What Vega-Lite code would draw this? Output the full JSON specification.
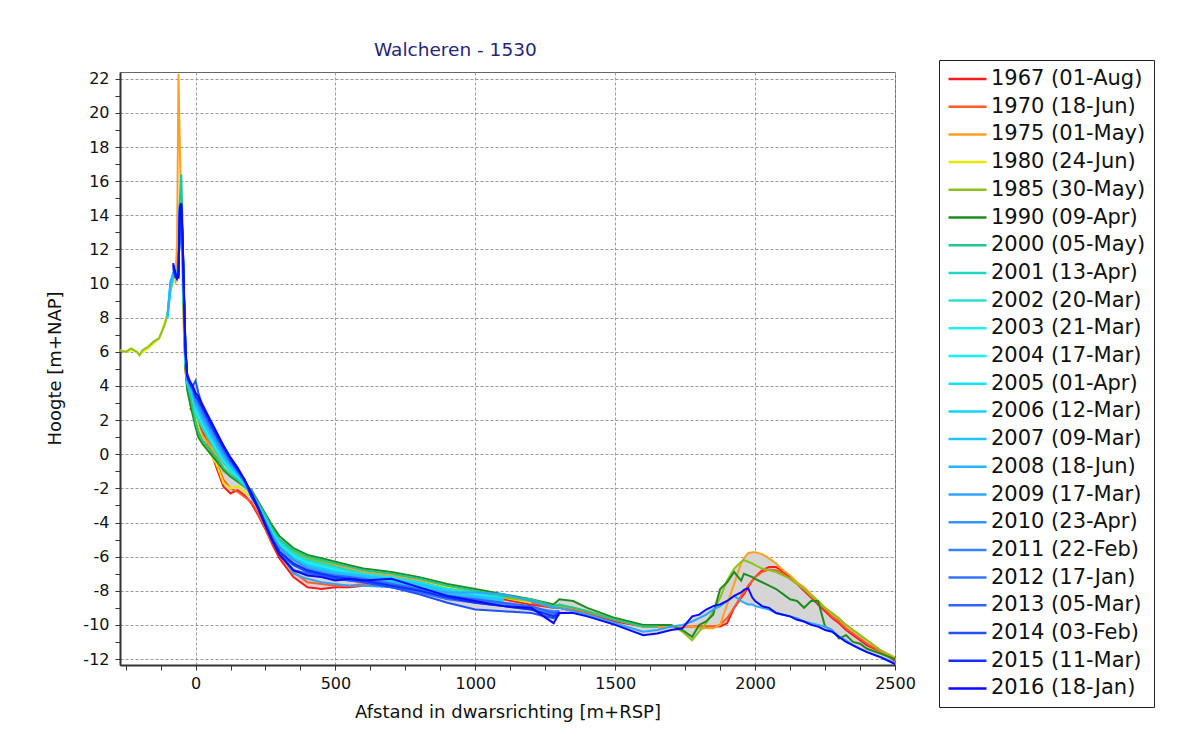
{
  "$schema": "https://vega.github.io/schema/vega-lite/v6.json",
  "width": 775,
  "height": 593,
  "autosize": {"type": "none"},
  "padding": {"left": 120, "top": 72, "right": 294, "bottom": 81},
  "background": "white",
  "config": {"font": "DejaVu Sans", "view": {"stroke": "#666", "strokeWidth": 1}},
  "title": {"text": "Walcheren - 1530", "color": "#25257a", "font": "DejaVu Sans", "fontSize": 18.5, "fontWeight": "normal", "anchor": "start", "frame": "group", "dx": 254, "offset": 0},
  "data": {"values": [
    {"x":0,"s67":2.4,"s70":2.6,"s75":2.1,"s80":2.2,"s85":1.9,"s90":1.6,"s00":1.9,"s01":2.4,"s02":2.6,"s03":2.6,"s04":2.7,"s05":2.8,"s06":2.9,"s07":2.8,"s08":3.0,"s09":3.0,"s10":3.1,"s11":3.2,"s12":3.3,"s13":3.4,"s14":4.3,"s15":3.4,"s16":3.6},
    {"x":-270,"s80":6.1,"s85":6.1},
    {"x":-250,"s80":6.0,"s85":6.0},
    {"x":-230,"s80":6.1,"s85":6.2},
    {"x":-210,"s80":6.0,"s85":6.0},
    {"x":-200,"s80":5.8,"s85":5.8},
    {"x":-190,"s80":6.0,"s85":6.1},
    {"x":-170,"s80":6.2,"s85":6.3},
    {"x":-150,"s80":6.5,"s85":6.6},
    {"x":-130,"s80":6.8,"s85":6.8},
    {"x":-110,"s80":7.7,"s85":7.6},
    {"x":-100,"s80":8.3,"s85":8.2,"s03":8.0,"s04":8.1,"s05":8.2,"s06":8.0,"s07":8.1,"s08":8.2},
    {"x":-90,"s80":9.5,"s85":9.6,"s03":9.6,"s04":9.8,"s05":10.0,"s06":9.7,"s07":9.9,"s08":10.1},
    {"x":-80,"s80":10.2,"s85":10.3,"s03":10.4,"s04":10.5,"s05":10.6,"s06":10.4,"s07":10.5,"s08":10.6,"s09":10.6,"s10":10.9,"s11":10.8,"s12":11.0,"s13":10.7,"s14":10.9,"s15":11.1,"s16":11.2},
    {"x":-72,"s75":10.0,"s80":10.4,"s85":10.5,"s00":10.3,"s01":10.4,"s02":10.5,"s03":10.5,"s04":10.4,"s05":10.6,"s06":10.5,"s07":10.4,"s08":10.6,"s09":10.5,"s10":10.6,"s11":10.4,"s12":10.7,"s13":10.5,"s14":10.6,"s15":10.4,"s16":10.6},
    {"x":-66,"s75":12.5,"s80":10.3,"s85":10.4,"s90":10.4,"s00":10.5,"s01":10.3,"s02":10.4,"s03":10.3,"s04":10.5,"s05":10.4,"s06":10.3,"s07":10.5,"s08":10.4,"s09":10.3,"s10":10.5,"s11":10.4,"s12":10.3,"s13":10.5,"s14":10.4,"s15":10.3,"s16":10.3},
    {"x":-61,"s75":22.3,"s80":10.6,"s85":10.6,"s90":10.8,"s00":11.5,"s01":10.6,"s02":10.5,"s03":10.7,"s04":10.6,"s05":10.5,"s06":10.7,"s07":10.6,"s08":10.5,"s09":10.6,"s10":10.4,"s11":10.5,"s12":10.6,"s13":10.4,"s14":10.5,"s15":10.6,"s16":10.4},
    {"x":-56,"s75":18.0,"s80":13.5,"s85":13.8,"s90":14.8,"s00":15.0,"s01":14.1,"s02":13.9,"s03":14.2,"s04":14.0,"s05":14.3,"s06":13.8,"s07":14.1,"s08":14.2,"s09":14.0,"s10":14.3,"s11":14.1,"s12":14.4,"s13":14.2,"s14":14.5,"s15":14.3,"s16":14.5},
    {"x":-51,"s75":14.0,"s80":13.8,"s85":14.0,"s90":14.5,"s00":16.4,"s01":14.2,"s02":14.0,"s03":14.4,"s04":14.1,"s05":14.3,"s06":14.0,"s07":14.2,"s08":14.4,"s09":14.3,"s10":14.5,"s11":14.4,"s12":14.6,"s13":14.5,"s14":14.7,"s15":14.6,"s16":14.7},
    {"x":-46,"s75":10.0,"s80":11.5,"s85":11.8,"s90":11.5,"s00":13.0,"s01":12.0,"s02":11.8,"s03":12.2,"s04":12.0,"s05":12.4,"s06":11.9,"s07":12.1,"s08":12.3,"s09":12.0,"s10":12.3,"s11":12.2,"s12":12.5,"s13":12.4,"s14":12.6,"s15":12.3,"s16":12.6},
    {"x":-41,"s75":6.5,"s80":8.0,"s85":8.2,"s90":7.5,"s00":8.5,"s01":8.3,"s02":8.2,"s03":8.6,"s04":8.4,"s05":8.8,"s06":8.3,"s07":8.5,"s08":8.7,"s09":8.8,"s10":9.0,"s11":8.9,"s12":9.2,"s13":9.1,"s14":9.4,"s15":9.0,"s16":9.3},
    {"x":-36,"s75":4.8,"s80":5.5,"s85":5.3,"s90":5.0,"s00":5.5,"s01":5.4,"s02":5.5,"s03":5.7,"s04":5.6,"s05":5.9,"s06":5.5,"s07":5.7,"s08":5.8,"s09":5.8,"s10":6.0,"s11":5.9,"s12":6.2,"s13":6.0,"s14":6.3,"s15":6.1,"s16":6.2},
    {"x":-30,"s75":4.0,"s80":4.0,"s85":4.0,"s90":3.8,"s00":4.2,"s01":4.2,"s02":4.3,"s03":4.4,"s04":4.3,"s05":4.5,"s06":4.2,"s07":4.4,"s08":4.5,"s09":4.4,"s10":4.6,"s11":4.5,"s12":4.7,"s13":4.5,"s14":4.7,"s15":4.6,"s16":4.6},
    {"x":-20,"s67":2.7,"s70":2.9,"s75":3.3,"s80":3.4,"s85":3.2,"s90":3.0,"s00":3.5,"s01":3.7,"s02":3.8,"s03":3.8,"s04":3.9,"s05":4.0,"s06":3.7,"s07":3.9,"s08":4.0,"s09":4.0,"s10":4.1,"s11":4.2,"s12":4.2,"s13":4.1,"s14":4.3,"s15":4.2,"s16":4.2},
    {"x":-10,"s67":2.5,"s70":2.7,"s75":2.7,"s80":2.8,"s85":2.5,"s90":2.3,"s00":2.7,"s01":3.3,"s02":3.4,"s03":3.4,"s04":3.5,"s05":3.6,"s06":3.4,"s07":3.5,"s08":3.7,"s09":3.7,"s10":3.8,"s11":3.8,"s12":3.9,"s13":3.8,"s14":4.0,"s15":3.9,"s16":4.0},
    {"x":10,"s67":2.0,"s70":2.3,"s75":1.6,"s80":1.5,"s85":1.3,"s90":1.0,"s00":1.3,"s01":2.0,"s02":2.2,"s03":2.3,"s04":2.4,"s05":2.5,"s06":2.6,"s07":2.5,"s08":2.7,"s09":2.8,"s10":2.9,"s11":3.0,"s12":3.0,"s13":3.1,"s14":3.6,"s15":3.2,"s16":3.4},
    {"x":25,"s67":1.3,"s70":1.6,"s75":1.1,"s80":0.9,"s85":0.8,"s90":0.6,"s00":0.8,"s01":1.5,"s02":1.7,"s03":1.8,"s04":1.9,"s05":1.9,"s06":2.0,"s07":2.0,"s08":2.1,"s09":2.2,"s10":2.3,"s11":2.4,"s12":2.5,"s13":2.6,"s14":2.8,"s15":2.7,"s16":2.9},
    {"x":50,"s67":0.4,"s70":0.7,"s75":0.5,"s80":0.1,"s85":0.3,"s90":0.1,"s00":0.3,"s01":0.8,"s02":1.0,"s03":1.0,"s04":1.1,"s05":1.2,"s06":1.3,"s07":1.2,"s08":1.4,"s09":1.5,"s10":1.6,"s11":1.6,"s12":1.7,"s13":1.8,"s14":2.0,"s15":1.9,"s16":2.1},
    {"x":75,"s67":-0.8,"s70":-0.5,"s75":0.0,"s80":-0.6,"s85":-0.2,"s90":-0.4,"s00":-0.2,"s01":0.1,"s02":0.3,"s03":0.3,"s04":0.4,"s05":0.5,"s06":0.6,"s07":0.5,"s08":0.7,"s09":0.7,"s10":0.8,"s11":0.9,"s12":1.0,"s13":1.1,"s14":1.2,"s15":1.1,"s16":1.3},
    {"x":100,"s67":-1.9,"s70":-1.5,"s75":-0.8,"s80":-1.7,"s85":-1.0,"s90":-0.9,"s00":-0.8,"s01":-0.5,"s02":-0.4,"s03":-0.3,"s04":-0.3,"s05":-0.2,"s06":-0.1,"s07":-0.2,"s08":0.0,"s09":0.0,"s10":0.1,"s11":0.2,"s12":0.2,"s13":0.3,"s14":0.5,"s15":0.4,"s16":0.5},
    {"x":125,"s67":-2.3,"s70":-2.0,"s75":-1.3,"s80":-2.0,"s85":-1.3,"s90":-1.3,"s00":-1.2,"s01":-1.0,"s02":-0.9,"s03":-0.9,"s04":-0.8,"s05":-0.8,"s06":-0.7,"s07":-0.7,"s08":-0.6,"s09":-0.6,"s10":-0.5,"s11":-0.5,"s12":-0.4,"s13":-0.4,"s14":-0.2,"s15":-0.3,"s16":-0.2},
    {"x":150,"s67":-2.1,"s70":-2.2,"s75":-1.5,"s80":-1.9,"s85":-1.6,"s90":-1.6,"s00":-1.5,"s01":-1.4,"s02":-1.3,"s03":-1.3,"s04":-1.2,"s05":-1.2,"s06":-1.2,"s07":-1.1,"s08":-1.1,"s09":-1.1,"s10":-1.0,"s11":-1.0,"s12":-1.0,"s13":-0.9,"s14":-0.8,"s15":-0.9,"s16":-0.8},
    {"x":175,"s67":-2.4,"s70":-2.5,"s75":-1.8,"s80":-2.2,"s85":-1.9,"s90":-1.9,"s00":-1.9,"s01":-1.8,"s02":-1.7,"s03":-1.7,"s04":-1.7,"s05":-1.7,"s06":-1.6,"s07":-1.7,"s08":-1.6,"s09":-1.6,"s10":-1.6,"s11":-1.6,"s12":-1.6,"s13":-1.5,"s14":-1.5,"s15":-1.5,"s16":-1.5},
    {"x":200,"s67":-2.9,"s70":-2.8,"s75":-2.3,"s80":-2.5,"s85":-2.3,"s90":-2.1,"s00":-2.2,"s01":-2.3,"s02":-2.4,"s03":-2.2,"s04":-2.4,"s05":-2.3,"s06":-2.5,"s07":-2.3,"s08":-2.4,"s09":-2.5,"s10":-2.3,"s11":-2.4,"s12":-2.2,"s13":-2.4,"s14":-2.3,"s15":-2.5,"s16":-2.3},
    {"x":225,"s67":-3.6,"s70":-3.5,"s75":-3.0,"s80":-3.2,"s85":-3.0,"s90":-2.8,"s00":-2.9,"s01":-3.0,"s02":-3.0,"s03":-3.1,"s04":-3.1,"s05":-3.1,"s06":-3.1,"s07":-3.1,"s08":-3.1,"s09":-3.1,"s10":-3.1,"s11":-3.2,"s12":-3.1,"s13":-3.2,"s14":-3.2,"s15":-3.2,"s16":-3.2},
    {"x":250,"s67":-4.4,"s70":-4.3,"s75":-3.7,"s80":-3.9,"s85":-3.7,"s90":-3.5,"s00":-3.6,"s01":-3.8,"s02":-3.8,"s03":-3.8,"s04":-3.9,"s05":-3.9,"s06":-3.9,"s07":-3.9,"s08":-4.0,"s09":-4.0,"s10":-4.0,"s11":-4.1,"s12":-4.1,"s13":-4.1,"s14":-4.2,"s15":-4.1,"s16":-4.2},
    {"x":275,"s67":-5.3,"s70":-5.2,"s75":-4.5,"s80":-4.6,"s85":-4.4,"s90":-4.2,"s00":-4.4,"s01":-4.5,"s02":-4.6,"s03":-4.6,"s04":-4.7,"s05":-4.7,"s06":-4.7,"s07":-4.8,"s08":-4.8,"s09":-4.8,"s10":-4.9,"s11":-4.9,"s12":-5.0,"s13":-5.0,"s14":-5.1,"s15":-5.0,"s16":-5.1},
    {"x":300,"s67":-6.1,"s70":-5.9,"s75":-5.1,"s80":-5.2,"s85":-5.0,"s90":-4.8,"s00":-5.0,"s01":-5.1,"s02":-5.2,"s03":-5.3,"s04":-5.3,"s05":-5.4,"s06":-5.4,"s07":-5.4,"s08":-5.5,"s09":-5.7,"s10":-5.5,"s11":-5.8,"s12":-5.8,"s13":-5.7,"s14":-5.8,"s15":-5.7,"s16":-5.9},
    {"x":350,"s67":-7.2,"s70":-6.9,"s75":-5.8,"s80":-5.9,"s85":-5.7,"s90":-5.5,"s00":-5.6,"s01":-5.8,"s02":-5.9,"s03":-6.0,"s04":-6.0,"s05":-6.1,"s06":-6.1,"s07":-6.1,"s08":-6.2,"s09":-7.0,"s10":-6.2,"s11":-6.8,"s12":-6.8,"s13":-6.4,"s14":-6.5,"s15":-6.4,"s16":-6.8},
    {"x":400,"s67":-7.8,"s70":-7.5,"s75":-6.1,"s80":-6.3,"s85":-6.1,"s90":-5.9,"s00":-6.0,"s01":-6.2,"s02":-6.3,"s03":-6.4,"s04":-6.4,"s05":-6.5,"s06":-6.5,"s07":-6.5,"s08":-6.6,"s09":-7.3,"s10":-6.7,"s11":-7.0,"s12":-7.0,"s13":-6.8,"s14":-6.9,"s15":-6.8,"s16":-7.1},
    {"x":450,"s67":-7.9,"s70":-7.6,"s75":-6.3,"s80":-6.5,"s85":-6.3,"s90":-6.1,"s00":-6.2,"s01":-6.4,"s02":-6.5,"s03":-6.6,"s04":-6.6,"s05":-6.7,"s06":-6.7,"s07":-6.7,"s08":-6.8,"s09":-7.5,"s10":-6.9,"s11":-7.1,"s12":-7.2,"s13":-7.0,"s14":-7.1,"s15":-7.0,"s16":-7.2},
    {"x":500,"s67":-7.8,"s70":-7.7,"s75":-6.5,"s80":-6.7,"s85":-6.6,"s90":-6.3,"s00":-6.4,"s01":-6.6,"s02":-6.7,"s03":-6.8,"s04":-6.8,"s05":-6.9,"s06":-6.9,"s07":-6.9,"s08":-7.0,"s09":-7.6,"s10":-7.1,"s11":-7.2,"s12":-7.3,"s13":-7.1,"s14":-7.3,"s15":-7.2,"s16":-7.4},
    {"x":550,"s67":-7.8,"s70":-7.7,"s75":-6.7,"s80":-6.9,"s85":-6.8,"s90":-6.5,"s00":-6.6,"s01":-6.8,"s02":-6.9,"s03":-7.0,"s04":-7.0,"s05":-7.1,"s06":-7.1,"s07":-7.0,"s08":-7.1,"s09":-7.7,"s10":-7.2,"s11":-7.3,"s12":-7.4,"s13":-7.2,"s14":-7.4,"s15":-7.3,"s16":-7.3},
    {"x":600,"s67":-7.7,"s70":-7.6,"s75":-6.9,"s80":-7.0,"s85":-7.0,"s90":-6.7,"s00":-6.8,"s01":-7.0,"s02":-7.0,"s03":-7.1,"s04":-7.2,"s05":-7.2,"s06":-7.2,"s07":-7.1,"s08":-7.2,"s09":-7.7,"s10":-7.4,"s11":-7.4,"s12":-7.5,"s13":-7.3,"s14":-7.5,"s15":-7.4,"s16":-7.4},
    {"x":700,"s67":-7.6,"s70":-7.5,"s75":-7.1,"s80":-7.2,"s85":-7.2,"s90":-6.9,"s00":-7.0,"s01":-7.2,"s02":-7.2,"s03":-7.3,"s04":-7.4,"s05":-7.4,"s06":-7.4,"s07":-7.3,"s08":-7.5,"s09":-7.8,"s10":-7.6,"s11":-7.7,"s12":-7.8,"s13":-7.6,"s14":-7.8,"s15":-7.7,"s16":-7.3},
    {"x":800,"s67":-7.8,"s70":-7.7,"s75":-7.4,"s80":-7.5,"s85":-7.5,"s90":-7.2,"s00":-7.3,"s01":-7.5,"s02":-7.5,"s03":-7.6,"s04":-7.7,"s05":-7.7,"s06":-7.7,"s07":-7.6,"s08":-7.8,"s09":-7.9,"s10":-7.9,"s11":-8.0,"s12":-8.1,"s13":-7.9,"s14":-8.2,"s15":-8.0,"s16":-7.8},
    {"x":900,"s67":-8.0,"s70":-7.9,"s75":-7.8,"s80":-7.8,"s85":-7.9,"s90":-7.6,"s00":-7.7,"s01":-7.9,"s02":-7.9,"s03":-8.0,"s04":-8.0,"s05":-8.1,"s06":-8.1,"s07":-8.0,"s08":-8.2,"s09":-8.1,"s10":-8.3,"s11":-8.4,"s12":-8.5,"s13":-8.3,"s14":-8.7,"s15":-8.4,"s16":-8.3},
    {"x":1000,"s67":-8.2,"s70":-8.1,"s75":-8.0,"s80":-8.1,"s85":-8.1,"s90":-7.9,"s00":-8.0,"s01":-8.1,"s02":-8.2,"s03":-8.2,"s04":-8.3,"s05":-8.3,"s06":-8.3,"s07":-8.3,"s08":-8.4,"s09":-8.1,"s10":-8.5,"s11":-8.6,"s12":-8.7,"s13":-8.5,"s14":-9.1,"s15":-8.7,"s16":-8.6},
    {"x":1100,"s67":-8.5,"s70":-8.4,"s75":-8.3,"s80":-8.4,"s85":-8.4,"s90":-8.2,"s00":-8.3,"s01":-8.4,"s02":-8.5,"s03":-8.5,"s04":-8.6,"s05":-8.6,"s06":-8.6,"s07":-8.5,"s08":-8.7,"s09":-8.2,"s10":-8.8,"s11":-8.8,"s12":-8.9,"s13":-8.7,"s14":-9.2,"s15":-8.9,"s16":-8.9},
    {"x":1200,"s67":-8.8,"s70":-8.7,"s75":-8.6,"s80":-8.7,"s85":-8.6,"s90":-8.5,"s00":-8.5,"s09":-8.6,"s10":-9.0,"s11":-9.0,"s12":-9.1,"s13":-8.9,"s14":-9.3,"s15":-9.1,"s16":-9.0},
    {"x":1280,"s67":-9.0,"s70":-9.0,"s75":-8.9,"s85":-8.9,"s90":-8.8,"s00":-8.9,"s09":-9.0,"s10":-9.3,"s11":-9.2,"s12":-9.4,"s13":-9.3,"s14":-9.6,"s15":-9.5,"s16":-9.9},
    {"x":1300,"s67":-9.0,"s70":-9.0,"s75":-8.9,"s85":-8.9,"s90":-8.5,"s00":-8.8,"s09":-9.0,"s10":-9.2,"s11":-9.2,"s12":-9.3,"s13":-9.2,"s14":-9.4,"s15":-9.3,"s16":-9.3},
    {"x":1350,"s67":-9.2,"s70":-9.1,"s75":-9.0,"s85":-9.0,"s90":-8.6,"s00":-9.0,"s09":-9.2,"s16":-9.3},
    {"x":1400,"s67":-9.3,"s70":-9.3,"s75":-9.2,"s85":-9.2,"s90":-9.0,"s00":-9.2,"s09":-9.4,"s16":-9.5},
    {"x":1500,"s67":-9.8,"s70":-9.7,"s75":-9.7,"s85":-9.7,"s90":-9.6,"s00":-9.7,"s09":-9.9,"s16":-10.0},
    {"x":1600,"s67":-10.1,"s70":-10.1,"s75":-10.1,"s85":-10.1,"s90":-10.0,"s00":-10.1,"s09":-10.4,"s16":-10.6},
    {"x":1650,"s67":-10.1,"s70":-10.1,"s75":-10.1,"s85":-10.0,"s90":-10.0,"s00":-10.1,"s09":-10.3,"s16":-10.5},
    {"x":1700,"s67":-10.1,"s70":-10.1,"s75":-10.1,"s85":-10.0,"s90":-10.0,"s09":-10.1,"s16":-10.3},
    {"x":1740,"s67":-10.1,"s70":-10.1,"s75":-10.1,"s85":-10.4,"s90":-10.3,"s09":-10.0,"s16":-10.2},
    {"x":1775,"s67":-10.1,"s70":-10.1,"s75":-10.1,"s85":-10.9,"s90":-10.7,"s09":-9.8,"s16":-9.5},
    {"x":1800,"s67":-10.1,"s70":-10.1,"s75":-10.2,"s85":-10.4,"s90":-10.0,"s09":-9.6,"s16":-9.4},
    {"x":1825,"s67":-10.1,"s70":-10.1,"s75":-10.2,"s85":-9.9,"s90":-9.8,"s09":-9.4,"s16":-9.1},
    {"x":1850,"s67":-10.1,"s70":-10.1,"s75":-10.2,"s85":-9.2,"s90":-9.4,"s09":-9.1,"s16":-8.9},
    {"x":1875,"s67":-10.1,"s70":-10.0,"s75":-10.0,"s85":-8.4,"s90":-7.9,"s09":-8.9,"s16":-8.8},
    {"x":1900,"s67":-9.9,"s70":-9.6,"s75":-8.8,"s85":-7.4,"s90":-7.5,"s09":-8.6,"s16":-8.6},
    {"x":1925,"s67":-9.0,"s70":-9.0,"s75":-7.6,"s85":-6.7,"s90":-6.9,"s09":-8.3,"s16":-8.3},
    {"x":1950,"s67":-8.4,"s70":-8.3,"s75":-6.4,"s85":-6.3,"s90":-7.4,"s09":-8.6,"s16":-8.1},
    {"x":1960,"s67":-8.2,"s70":-8.1,"s75":-6.1,"s85":-6.2,"s90":-7.0,"s09":-8.7,"s16":-7.95},
    {"x":1975,"s67":-7.8,"s70":-7.7,"s75":-5.8,"s85":-6.3,"s90":-7.1,"s09":-8.8,"s16":-7.85},
    {"x":1990,"s67":-7.4,"s70":-7.4,"s75":-5.75,"s85":-6.4,"s90":-7.2,"s09":-8.8,"s16":-8.4},
    {"x":2000,"s67":-7.2,"s70":-7.2,"s75":-5.75,"s85":-6.5,"s90":-7.3,"s09":-8.9,"s16":-8.6},
    {"x":2025,"s67":-6.8,"s70":-6.9,"s75":-5.85,"s85":-6.7,"s90":-7.5,"s09":-9.0,"s16":-8.9},
    {"x":2050,"s67":-6.6,"s70":-6.75,"s75":-6.1,"s85":-6.8,"s90":-7.7,"s09":-9.1,"s16":-9.0},
    {"x":2075,"s67":-6.6,"s70":-6.8,"s75":-6.4,"s85":-6.9,"s90":-7.9,"s09":-9.3,"s16":-9.3},
    {"x":2100,"s67":-6.9,"s70":-7.0,"s75":-6.8,"s85":-7.1,"s90":-8.2,"s09":-9.4,"s16":-9.4},
    {"x":2125,"s67":-7.2,"s70":-7.3,"s75":-7.1,"s85":-7.3,"s90":-8.5,"s09":-9.5,"s16":-9.5},
    {"x":2150,"s67":-7.6,"s70":-7.6,"s75":-7.5,"s85":-7.6,"s90":-8.6,"s09":-9.6,"s16":-9.7},
    {"x":2175,"s67":-8.0,"s70":-7.9,"s75":-7.8,"s85":-7.9,"s90":-9.0,"s09":-9.8,"s16":-9.8},
    {"x":2200,"s67":-8.4,"s70":-8.3,"s75":-8.2,"s85":-8.3,"s90":-8.6,"s09":-9.9,"s16":-10.0},
    {"x":2225,"s67":-8.8,"s70":-8.7,"s75":-8.6,"s85":-8.6,"s90":-8.6,"s09":-10.0,"s16":-10.1},
    {"x":2250,"s67":-9.2,"s70":-9.1,"s75":-9.0,"s85":-9.0,"s90":-10.1,"s09":-10.1,"s16":-10.3},
    {"x":2275,"s67":-9.6,"s70":-9.5,"s75":-9.3,"s85":-9.3,"s90":-10.3,"s09":-10.3,"s16":-10.4},
    {"x":2300,"s67":-9.9,"s70":-9.8,"s75":-9.6,"s85":-9.65,"s90":-10.8,"s09":-10.7,"s16":-10.7},
    {"x":2325,"s67":-10.3,"s70":-10.2,"s75":-10.0,"s85":-10.0,"s90":-10.6,"s09":-10.9,"s16":-11.0},
    {"x":2350,"s67":-10.6,"s70":-10.5,"s75":-10.3,"s85":-10.3,"s90":-11.0,"s09":-11.2,"s16":-11.2},
    {"x":2375,"s67":-10.9,"s70":-10.8,"s75":-10.6,"s85":-10.6,"s90":-11.1,"s09":-11.4,"s16":-11.4},
    {"x":2400,"s67":-11.2,"s70":-11.1,"s75":-10.9,"s85":-10.9,"s90":-11.4,"s09":-11.6,"s16":-11.6},
    {"x":2450,"s67":-11.6,"s70":-11.6,"s75":-11.5,"s85":-11.5,"s90":-11.7,"s09":-11.9,"s16":-11.9},
    {"x":2500,"s67":-12.1,"s70":-12.0,"s75":-11.9,"s85":-12.0,"s90":-12.0,"s09":-12.2,"s16":-12.3}
  ]},
  "transform": [
    {"fold": ["s67","s70","s75","s80","s85","s90","s00","s01","s02","s03","s04","s05","s06","s07","s08","s09","s10","s11","s12","s13","s14","s15","s16"], "as": ["key", "value"]},
    {"filter": "isValid(datum.value)"},
    {"lookup": "key", "from": {"data": {"values": [
      {"key":"s67","label":"1967 (01-Aug)"},{"key":"s70","label":"1970 (18-Jun)"},{"key":"s75","label":"1975 (01-May)"},
      {"key":"s80","label":"1980 (24-Jun)"},{"key":"s85","label":"1985 (30-May)"},{"key":"s90","label":"1990 (09-Apr)"},
      {"key":"s00","label":"2000 (05-May)"},{"key":"s01","label":"2001 (13-Apr)"},{"key":"s02","label":"2002 (20-Mar)"},
      {"key":"s03","label":"2003 (21-Mar)"},{"key":"s04","label":"2004 (17-Mar)"},{"key":"s05","label":"2005 (01-Apr)"},
      {"key":"s06","label":"2006 (12-Mar)"},{"key":"s07","label":"2007 (09-Mar)"},{"key":"s08","label":"2008 (18-Jun)"},
      {"key":"s09","label":"2009 (17-Mar)"},{"key":"s10","label":"2010 (23-Apr)"},{"key":"s11","label":"2011 (22-Feb)"},
      {"key":"s12","label":"2012 (17-Jan)"},{"key":"s13","label":"2013 (05-Mar)"},{"key":"s14","label":"2014 (03-Feb)"},
      {"key":"s15","label":"2015 (11-Mar)"},{"key":"s16","label":"2016 (18-Jan)"}
    ]}, "key": "key", "fields": ["label"]}}
  ],
  "layer": [
    {
      "transform": [
        {"filter": "datum.x >= -10"},
        {"aggregate": [{"op": "min", "field": "value", "as": "lo"}, {"op": "max", "field": "value", "as": "hi"}], "groupby": ["x"]}
      ],
      "mark": {"type": "area", "color": "#d5d5d5", "clip": true},
      "encoding": {
        "x": {"field": "x", "type": "quantitative", "scale": {"domain": [-270, 2500], "nice": false, "zero": false},
          "axis": {"title": "Afstand in dwarsrichting [m+RSP]", "values": [-250,-125,0,125,250,375,500,625,750,875,1000,1125,1250,1375,1500,1625,1750,1875,2000,2125,2250,2375,2500],
            "labelExpr": "datum.value % 500 === 0 ? '' + datum.value : ''", "labelOverlap": false, "labelFlush": false,
            "grid": true, "gridColor": "#9a9a9a", "gridDash": [3, 2], "gridOpacity": {"condition": {"test": "datum.value % 500 === 0", "value": 1}, "value": 0},
            "tickSize": 5, "tickColor": "#333", "domainColor": "#333", "domainWidth": 2,
            "labelFont": "DejaVu Sans", "labelFontSize": 16, "labelColor": "#111", "labelPadding": 5,
            "titleFont": "DejaVu Sans", "titleFontSize": 18, "titleFontWeight": "normal", "titleColor": "#111", "titleY": 47, "titleBaseline": "middle"}},
        "y": {"field": "lo", "type": "quantitative", "scale": {"domain": [-12.35, 22.4], "nice": false, "zero": false},
          "axis": {"title": "Hoogte [m+NAP]", "values": [-12,-11,-10,-9,-8,-7,-6,-5,-4,-3,-2,-1,0,1,2,3,4,5,6,7,8,9,10,11,12,13,14,15,16,17,18,19,20,21,22],
            "labelExpr": "datum.value % 2 === 0 ? '' + datum.value : ''", "labelOverlap": false, "labelFlush": false,
            "grid": true, "gridColor": "#9a9a9a", "gridDash": [3, 2], "gridOpacity": {"condition": {"test": "datum.value % 2 === 0", "value": 1}, "value": 0},
            "tickSize": 5, "tickColor": "#333", "domainColor": "#333", "domainWidth": 2,
            "labelFont": "DejaVu Sans", "labelFontSize": 16, "labelColor": "#111", "labelPadding": 6,
            "titleFont": "DejaVu Sans", "titleFontSize": 18, "titleFontWeight": "normal", "titleColor": "#111", "titleX": -65, "titleY": 296, "titleBaseline": "middle"}},
        "y2": {"field": "hi"}
      }
    },
    {
      "mark": {"type": "line", "strokeWidth": 2, "clip": true},
      "encoding": {
        "x": {"field": "x", "type": "quantitative", "scale": {"domain": [-270, 2500], "nice": false, "zero": false},
          "axis": {"title": "Afstand in dwarsrichting [m+RSP]", "values": [-250,-125,0,125,250,375,500,625,750,875,1000,1125,1250,1375,1500,1625,1750,1875,2000,2125,2250,2375,2500],
            "labelExpr": "datum.value % 500 === 0 ? '' + datum.value : ''", "labelOverlap": false, "labelFlush": false,
            "grid": true, "gridColor": "#9a9a9a", "gridDash": [3, 2], "gridOpacity": {"condition": {"test": "datum.value % 500 === 0", "value": 1}, "value": 0},
            "tickSize": 5, "tickColor": "#333", "domainColor": "#333", "domainWidth": 2,
            "labelFont": "DejaVu Sans", "labelFontSize": 16, "labelColor": "#111", "labelPadding": 5,
            "titleFont": "DejaVu Sans", "titleFontSize": 18, "titleFontWeight": "normal", "titleColor": "#111", "titleY": 47, "titleBaseline": "middle"}},
        "y": {"field": "value", "type": "quantitative", "scale": {"domain": [-12.35, 22.4], "nice": false, "zero": false},
          "axis": {"title": "Hoogte [m+NAP]", "values": [-12,-11,-10,-9,-8,-7,-6,-5,-4,-3,-2,-1,0,1,2,3,4,5,6,7,8,9,10,11,12,13,14,15,16,17,18,19,20,21,22],
            "labelExpr": "datum.value % 2 === 0 ? '' + datum.value : ''", "labelOverlap": false, "labelFlush": false,
            "grid": true, "gridColor": "#9a9a9a", "gridDash": [3, 2], "gridOpacity": {"condition": {"test": "datum.value % 2 === 0", "value": 1}, "value": 0},
            "tickSize": 5, "tickColor": "#333", "domainColor": "#333", "domainWidth": 2,
            "labelFont": "DejaVu Sans", "labelFontSize": 16, "labelColor": "#111", "labelPadding": 6,
            "titleFont": "DejaVu Sans", "titleFontSize": 18, "titleFontWeight": "normal", "titleColor": "#111", "titleX": -65, "titleY": 296, "titleBaseline": "middle"}},
        "color": {"field": "label", "type": "nominal",
          "scale": {"domain": ["1967 (01-Aug)","1970 (18-Jun)","1975 (01-May)","1980 (24-Jun)","1985 (30-May)","1990 (09-Apr)","2000 (05-May)","2001 (13-Apr)","2002 (20-Mar)","2003 (21-Mar)","2004 (17-Mar)","2005 (01-Apr)","2006 (12-Mar)","2007 (09-Mar)","2008 (18-Jun)","2009 (17-Mar)","2010 (23-Apr)","2011 (22-Feb)","2012 (17-Jan)","2013 (05-Mar)","2014 (03-Feb)","2015 (11-Mar)","2016 (18-Jan)"],
            "range": ["#ff1a1a","#ff5a28","#ffa020","#e8e800","#8cc41c","#1e8c1e","#20c890","#20d8c0","#28e0d8","#20eef0","#10f4ff","#10e4ff","#10d4ff","#20c4ff","#28b4ff","#30a4ff","#3494ff","#3484ff","#3474ff","#3064ff","#2050ff","#1030ff","#0a0aff"]},
          "legend": {"orient": "none", "legendX": 819, "legendY": -12, "title": null,
            "symbolType": "M-1,0H3", "symbolSize": 361, "symbolStrokeWidth": 2.5, "symbolLimit": 40,
            "labelFont": "DejaVu Sans", "labelFontSize": 21, "labelColor": "#111", "labelOffset": 22, "labelLimit": 400,
            "rowPadding": 6.7, "padding": 8, "strokeColor": "#222", "fillColor": "#ffffff"}}
      }
    }
  ]
}
